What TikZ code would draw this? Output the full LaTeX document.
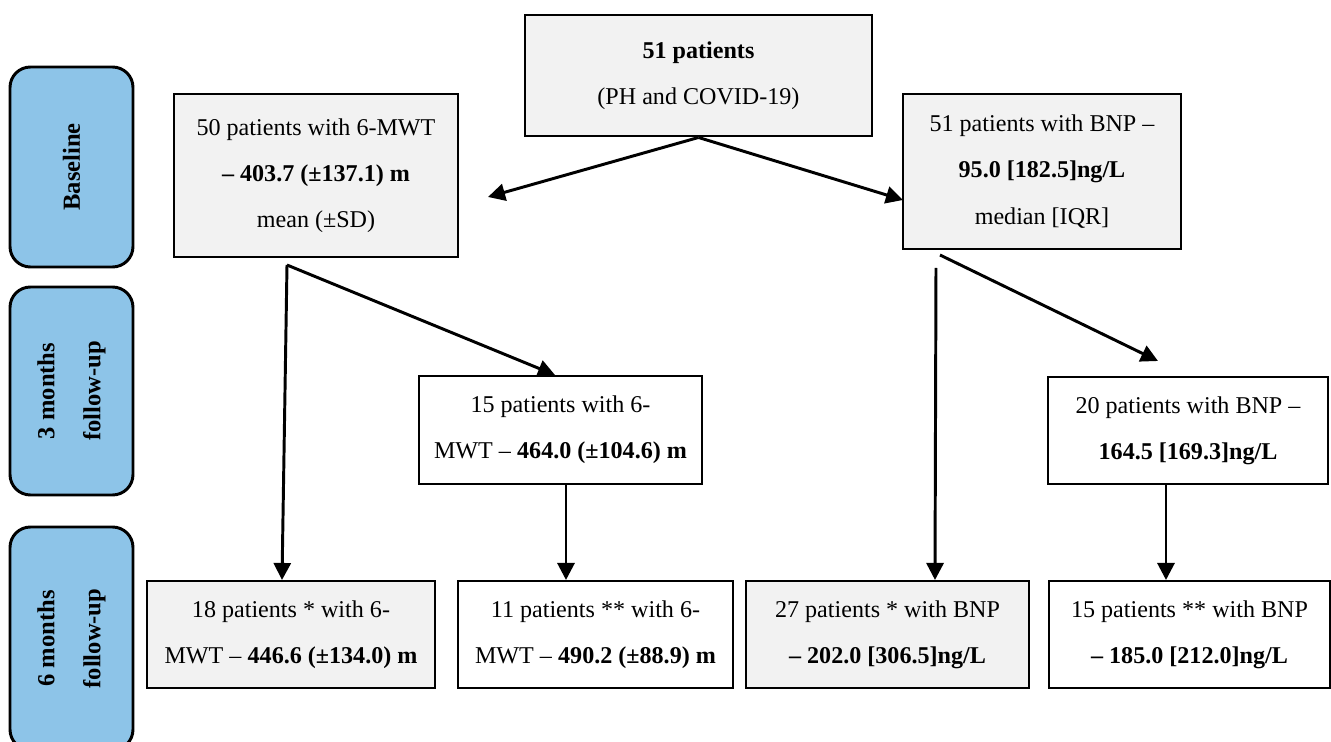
\documentclass[tikz,border=0pt]{standalone}
\usepackage{fontspec}
\setmainfont{Liberation Serif}
\usepackage{tikz}
\usetikzlibrary{arrows.meta,positioning}
\definecolor{stageblue}{RGB}{141,196,232}
\definecolor{boxgray}{RGB}{242,242,242}
\newlength\px
\setlength\px{0.44pt}
\tikzset{
    stage/.style={
    rectangle,rounded corners=9pt,draw=black,line width=1.3pt,fill=stageblue,
    minimum width=123\px,inner sep=0pt
    },
    stagetext/.style={
    rotate=90,align=center,font=\fontsize{10.8}{20.3}\selectfont\bfseries
    },
    patbox/.style={
    rectangle,draw=black,line width=1.3pt,fill=white,align=center,
    font=\fontsize{10.6}{20.3}\selectfont,inner sep=0pt
    },
    gpatbox/.style={
    patbox,fill=boxgray
    },
    arr/.style={
    -{Triangle[length=7.5pt,width=7.5pt]},line width=1.3pt
    },
}
\begin{document}
\begin{tikzpicture}[x=0.44pt, y=-0.44pt]
   \useasboundingbox (0,0) rectangle (1331,742);
   \clip (0,0) rectangle (1331,742);
   % stages
   \node[stage, minimum height=200\px] (base) at (71.5,167) {};
   \node[stagetext] (basel) at (base.center) {Baseline};
   \node[stage, minimum height=208\px] (three) at (71.5,391) {};
   \node[stagetext] (threel) at (three.center) {3 months\\follow-up};
   \node[stage, minimum height=223\px] (six) at (71.5,638.5) {};
   \node[stagetext] (sixl) at (six.center) {6 months\\follow-up};

   % patient boxes
   \node[gpatbox, minimum width=347\px, minimum height=121\px] (top) at (698.5,75.5)
      {\textbf{51 patients}\\(PH and COVID-19)};
   \node[gpatbox, minimum width=284\px, minimum height=163\px] (a) at (316,175.5)
      {50 patients with 6-MWT\\\textbf{-- 403.7 (±137.1) m}\\mean (±SD)};
   \node[gpatbox, minimum width=278\px, minimum height=155\px] (b) at (1042,171.5)
      {51 patients with BNP --\\\textbf{95.0 [182.5]ng/L}\\median [IQR]};
   \node[patbox, minimum width=283\px, minimum height=108\px] (c) at (560.5,430)
      {15 patients with 6-\\MWT -- \textbf{464.0 (±104.6) m}};
   \node[patbox, minimum width=280\px, minimum height=107\px] (d) at (1188,430.5)
      {20 patients with BNP --\\\textbf{164.5 [169.3]ng/L}};
   \node[gpatbox, minimum width=288\px, minimum height=107\px] (e) at (291,634.5)
      {18 patients * with 6-\\MWT -- \textbf{446.6 (±134.0) m}};
   \node[patbox, minimum width=275\px, minimum height=107\px] (f) at (595.5,634.5)
      {11 patients ** with 6-\\MWT -- \textbf{490.2 (±88.9) m}};
   \node[gpatbox, minimum width=283\px, minimum height=107\px] (g) at (887.5,634.5)
      {27 patients * with BNP\\\textbf{-- 202.0 [306.5]ng/L}};
   \node[patbox, minimum width=281\px, minimum height=107\px] (h) at (1189.5,634.5)
      {15 patients ** with BNP\\\textbf{-- 185.0 [212.0]ng/L}};

   % arrow ends
   \coordinate (aout) at (287,265);
   \coordinate (ain) at (488,197);
   \coordinate (bin) at (903,200);
   \coordinate (cin) at (555,375);
   \coordinate (ein) at (282,580);
   \coordinate (fin) at (566,580);
   \coordinate (bout) at (936,268);
   \coordinate (bdout) at (940,255);
   \coordinate (din) at (1158,361);
   \coordinate (gin) at (935,580);
   \coordinate (hin) at (1166,580);

  \path[arr]
    (top.south) edge (ain)
                edge (bin)
    (aout) edge (ein)
           edge (cin)
    (c.south -| fin) edge (fin)
    (bout) edge (gin)
    (bdout) edge (din)
    (d.south -| hin) edge (hin);
\end{tikzpicture}
\end{document}
